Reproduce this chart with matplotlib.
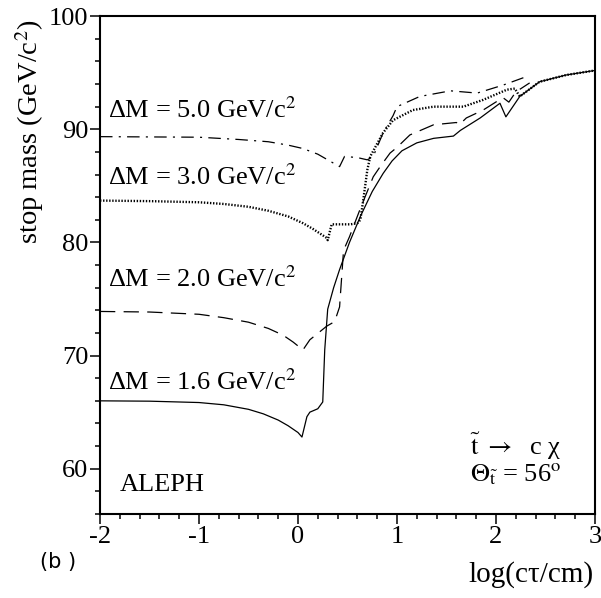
import matplotlib
matplotlib.use('Agg')
import matplotlib.pyplot as plt
from matplotlib.ticker import MultipleLocator, FuncFormatter

plt.rcParams['font.family'] = ['Liberation Serif', 'DejaVu Serif']
plt.rcParams['mathtext.fontset'] = 'stix'
plt.rcParams['lines.scale_dashes'] = False

# dM = 1.6 GeV/c^2 (solid)
x_16 = [-2.0, -1.5, -1.0, -0.75, -0.5, -0.35, -0.2, -0.1, 0.0, 0.04, 0.09, 0.12,
        0.2, 0.25, 0.27, 0.30, 0.36, 0.42, 0.52, 0.63, 0.75, 0.86, 0.95, 1.05,
        1.2, 1.37, 1.57, 1.64, 1.84, 2.04, 2.10, 2.24, 2.44, 2.71, 3.0]
y_16 = [66.0, 65.97, 65.85, 65.65, 65.25, 64.85, 64.3, 63.8, 63.2, 62.8, 64.6, 65.0,
        65.3, 65.9, 70.5, 74.1, 76.0, 77.6, 80.0, 82.3, 84.5, 86.1, 87.2, 88.1,
        88.8, 89.2, 89.4, 89.9, 91.0, 92.3, 91.1, 92.9, 94.2, 94.8, 95.2]

# dM = 2.0 GeV/c^2 (dashed)
x_20 = [-2.0, -1.5, -1.0, -0.75, -0.5, -0.3, -0.15, -0.05, 0.05, 0.12, 0.29,
        0.37, 0.42, 0.46, 0.52, 0.63, 0.76, 0.83, 0.93, 1.0, 1.13, 1.37, 1.6,
        1.63, 1.7, 1.87, 2.07, 2.13, 2.2, 2.34]
y_20 = [73.9, 73.85, 73.65, 73.35, 72.95, 72.4, 71.8, 71.2, 70.5, 71.4, 72.6,
        73.0, 74.3, 79.3, 80.5, 83.0, 85.8, 86.7, 87.9, 88.4, 89.5, 90.4, 90.6,
        90.4, 91.0, 91.7, 92.8, 92.4, 93.3, 94.1]

# dM = 3.0 GeV/c^2 (dotted)
x_30 = [-2.0, -1.5, -1.0, -0.75, -0.5, -0.3, -0.1, 0.05, 0.15, 0.29, 0.30,
        0.34, 0.53, 0.60, 0.63, 0.66, 0.70, 0.73, 0.86, 0.96, 1.16, 1.37, 1.67,
        1.87, 2.11, 2.19, 2.24, 2.44, 2.71, 3.0]
y_30 = [83.7, 83.65, 83.55, 83.4, 83.15, 82.8, 82.3, 81.7, 81.2, 80.4, 80.2,
        81.6, 81.6, 81.7, 82.0, 83.8, 86.4, 87.6, 89.7, 90.8, 91.7, 92.0, 92.0,
        92.6, 93.5, 93.6, 92.9, 94.2, 94.8, 95.2]

# dM = 5.0 GeV/c^2 (dash-dot)
x_50 = [-2.0, -1.0, -0.6, -0.3, -0.1, 0.05, 0.2, 0.32, 0.42, 0.47, 0.6, 0.7,
        0.76, 0.86, 0.96, 1.0, 1.23, 1.54, 1.81, 2.07, 2.29]
y_50 = [89.35, 89.3, 89.1, 88.9, 88.6, 88.3, 87.8, 87.2, 86.7, 87.6, 87.5, 87.3,
        87.6, 89.7, 91.2, 92.0, 92.9, 93.4, 93.2, 93.9, 94.6]

labels = ['ΔM = 5.0 GeV/c$^2$', 'ΔM = 3.0 GeV/c$^2$',
          'ΔM = 2.0 GeV/c$^2$', 'ΔM = 1.6 GeV/c$^2$']
label_y = [91.0, 85.1, 76.05, 67.0]

fig = plt.figure(figsize=(6.01, 5.98), dpi=100)
ax = fig.add_axes([0.1664, 0.1405, 0.8236, 0.8325])

ax.plot(x_16, y_16, color='black', lw=0.9)
ax.plot(x_20, y_20, color='black', lw=0.9, dashes=(11, 6))
ax.plot(x_30, y_30, color='black', lw=1.7, dashes=(1.0, 1.2))
ax.plot(x_50, y_50, color='black', lw=0.9, dashes=(9, 4.5, 1.5, 4.5))

for lab, ly in zip(labels, label_y):
    ax.text(-1.92, ly, lab, fontsize=19, va='baseline', ha='left')

ax.text(-1.8, 58.0, 'ALEPH', fontsize=19, va='baseline')
ax.text(1.74, 61.25, '$\\tilde{\\rm t}\\ \\rightarrow$  c χ', fontsize=19, va='baseline')
ax.text(1.74, 58.9, '$\\Theta_{\\tilde{\\rm t}}$ = 56$^{\\rm o}$', fontsize=19, va='baseline')

ax.set_xlim(-2, 3)
ax.set_ylim(56, 100)
ax.xaxis.set_major_locator(MultipleLocator(1))
ax.xaxis.set_minor_locator(MultipleLocator(0.2))
ax.yaxis.set_major_locator(MultipleLocator(10))
ax.yaxis.set_minor_locator(MultipleLocator(2))
ax.xaxis.set_major_formatter(FuncFormatter(lambda v, p: '%d' % v))
ax.yaxis.set_major_formatter(FuncFormatter(lambda v, p: '%d' % v))
ax.tick_params(which='major', direction='out', length=7, width=1.1, labelsize=19, pad=1.5)
ax.tick_params(which='minor', direction='out', length=3.5, width=1.1)
for s in ax.spines.values():
    s.set_linewidth(1.5)

fig.text(0.05, 0.78, 'stop mass (GeV/c$^2$)', rotation=90, fontsize=20.5,
         ha='center', va='center')
fig.text(0.987, 0.027, 'log(cτ/cm)', fontsize=21, ha='right', va='baseline')
fig.text(0.067, 0.06, '(b )', fontsize=15, family='DejaVu Sans', va='center')

fig.savefig('out.png', dpi=100)
